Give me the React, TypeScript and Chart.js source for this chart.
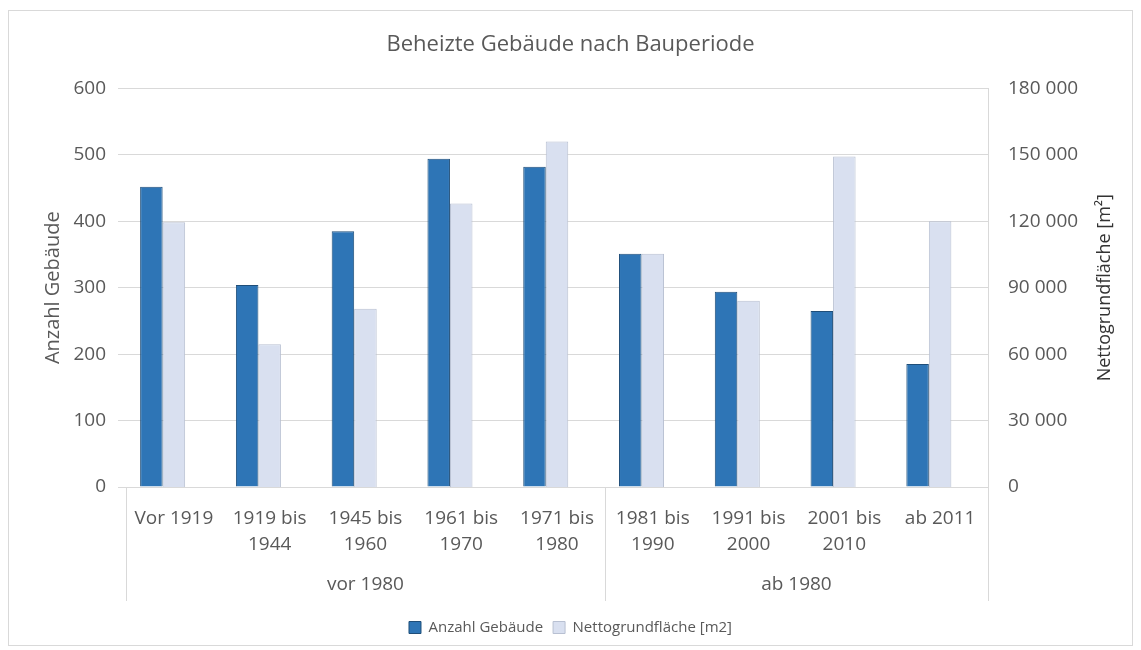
import React, { useEffect, useRef } from 'react';
import { Chart, registerables } from 'chart.js';

Chart.register(...registerables);

const FONT = "'Open Sans', 'DejaVu Sans', sans-serif";

const chartTitle = 'Beheizte Gebäude nach Bauperiode';
const categoryLabels: string[][] = [
  ['Vor 1919'],
  ['1919 bis', '1944'],
  ['1945 bis', '1960'],
  ['1961 bis', '1970'],
  ['1971 bis', '1980'],
  ['1981 bis', '1990'],
  ['1991 bis', '2000'],
  ['2001 bis', '2010'],
  ['ab 2011'],
];
const groupLabels = ['vor 1980', 'ab 1980'];
const groupSizes = [5, 4];

const seriesNames = ['Anzahl Gebäude', 'Nettogrundfläche [m2]'];
const anzahlGebaeude = [452, 304, 385, 494, 482, 351, 294, 265, 185];
const nettogrundflaeche = [119500, 64500, 80500, 128000, 156000, 105300, 84100, 149300, 120000];

const leftAxisTitle = 'Anzahl Gebäude';
const rightAxisTitle = 'Nettogrundfläche [m²]';
const leftMax = 600;
const leftStep = 100;
const rightMax = 180000;
const rightStep = 30000;

const fmtThousands = (v: number) => String(v).replace(/\B(?=(\d{3})+(?!\d))/g, ' ');

const groupAxisPlugin = {
  id: 'groupAxis',
  afterDraw(chart: any) {
    const x = chart.scales.x;
    const y1 = chart.scales.y1;
    const area = chart.chartArea;
    const ctx = chart.ctx;
    ctx.save();
    ctx.strokeStyle = '#d9d9d9';
    ctx.lineWidth = 1;
    const bounds = [-0.5];
    let acc = 0;
    groupSizes.forEach((n) => {
      acc += n;
      bounds.push(acc - 0.5);
    });
    const lineBottom = area.bottom + 114;
    bounds.forEach((b) => {
      const px = Math.round(x.getPixelForValue(b)) + 0.5;
      ctx.beginPath();
      ctx.moveTo(px, area.bottom);
      ctx.lineTo(px, lineBottom);
      ctx.stroke();
    });
    ctx.fillStyle = '#595959';
    ctx.font = `19px ${FONT}`;
    ctx.textAlign = 'center';
    ctx.textBaseline = 'middle';
    groupLabels.forEach((lbl, i) => {
      const cx = (x.getPixelForValue(bounds[i]) + x.getPixelForValue(bounds[i + 1])) / 2;
      ctx.fillText(lbl, cx, area.bottom + 98);
    });
    ctx.translate(y1.right - 27, (area.top + area.bottom) / 2);
    ctx.rotate(-Math.PI / 2);
    ctx.fillStyle = '#333333';
    ctx.font = `18px ${FONT}`;
    ctx.fillText(rightAxisTitle, 0, 0);
    ctx.restore();
  },
};

export default function App() {
  const canvasRef = useRef<HTMLCanvasElement | null>(null);

  useEffect(() => {
    if (!canvasRef.current) return;
    const chart = new Chart(canvasRef.current, {
      type: 'bar',
      data: {
        labels: categoryLabels,
        datasets: [
          {
            label: seriesNames[0],
            data: anzahlGebaeude,
            yAxisID: 'y',
            backgroundColor: '#2E75B6',
            borderColor: '#1F4E79',
            borderWidth: 1,
            categoryPercentage: 0.705,
            barPercentage: 1,
          },
          {
            label: seriesNames[1],
            data: nettogrundflaeche,
            yAxisID: 'y1',
            backgroundColor: '#D9E0F0',
            borderColor: '#B8C0D2',
            borderWidth: 1,
            categoryPercentage: 0.705,
            barPercentage: 1,
          },
          {
            label: '',
            data: [],
            yAxisID: 'y',
            backgroundColor: 'rgba(0,0,0,0)',
            categoryPercentage: 0.705,
            barPercentage: 1,
          },
        ],
      },
      options: {
        animation: false,
        responsive: true,
        maintainAspectRatio: false,
        layout: { padding: { left: 0, right: 0, top: 0, bottom: 0 } },
        plugins: {
          title: {
            display: true,
            text: chartTitle,
            color: '#595959',
            font: { family: FONT, size: 22, weight: 'normal' },
            padding: { top: 21, bottom: 30 },
          },
          legend: {
            position: 'bottom',
            labels: {
              filter: (item: any) => item.text !== '',
              color: '#595959',
              font: { family: FONT, size: 15 },
              boxWidth: 12,
              boxHeight: 12,
              padding: 10,
            },
          },
          tooltip: { enabled: false },
        },
        scales: {
          x: {
            grid: { display: false, drawTicks: false },
            border: { display: true, color: '#d9d9d9' },
            ticks: {
              color: '#595959',
              font: { family: FONT, size: 19, lineHeight: 1.37 },
              padding: 19,
              maxRotation: 0,
              autoSkip: false,
            },
            afterFit: (s: any) => {
              s.height = 123;
            },
          },
          y: {
            position: 'left',
            min: 0,
            max: leftMax,
            ticks: {
              stepSize: leftStep,
              color: '#595959',
              font: { family: FONT, size: 19 },
              padding: 12,
            },
            grid: { color: '#d9d9d9', tickLength: 8, drawTicks: true },
            border: { display: false },
            title: {
              display: true,
              text: leftAxisTitle,
              color: '#595959',
              font: { family: FONT, size: 20 },
              padding: { top: 32, bottom: 0 },
            },
            afterFit: (s: any) => {
              s.width = 117;
            },
          },
          y1: {
            position: 'right',
            min: 0,
            max: rightMax,
            ticks: {
              stepSize: rightStep,
              color: '#595959',
              font: { family: FONT, size: 19 },
              padding: 20,
              callback: (v: any) => fmtThousands(Number(v)),
            },
            grid: { display: false, drawTicks: false },
            border: { display: true, color: '#d9d9d9' },
            afterFit: (s: any) => {
              s.width = 144;
            },
          },
        },
      },
      plugins: [groupAxisPlugin],
    });
    return () => chart.destroy();
  }, []);

  return (
    <div
      style={{
        width: 1125,
        height: 636,
        marginTop: 2,
        border: '1px solid #d9d9d9',
        boxSizing: 'border-box',
        position: 'relative',
        background: '#fff',
      }}
    >
      <canvas ref={canvasRef} />
    </div>
  );
}
